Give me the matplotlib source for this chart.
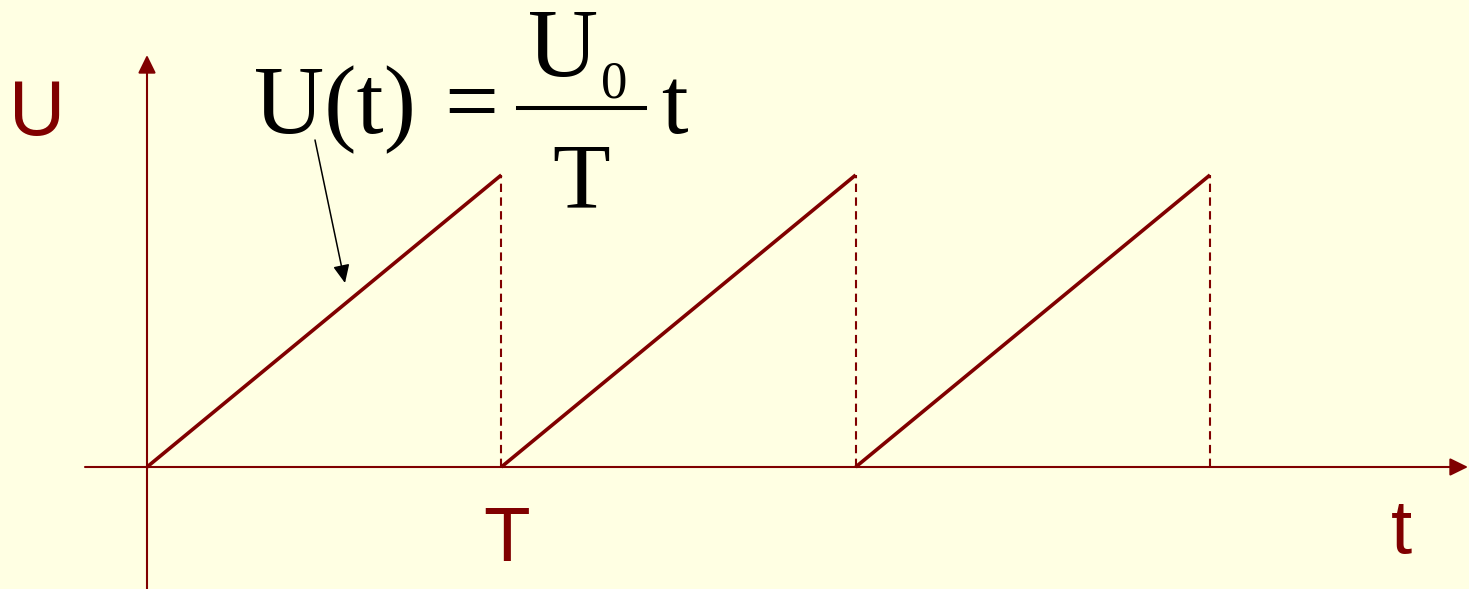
import numpy as np
import matplotlib
matplotlib.use('Agg')
import matplotlib.pyplot as plt
from matplotlib.lines import Line2D

# Datos de la señal diente de sierra (T = 1, U0 = 1, unidades normalizadas)
t_inicio = [0.0, 1.0, 2.0]
t_fin = [1.0, 2.0, 3.0]
U0 = 1.0

# Colores
fondo = '#FFFFE3'
rojo = '#800000'

W, H = 1469, 589
fig = plt.figure(figsize=(W / 100, H / 100), dpi=100, facecolor=fondo)
ax = fig.add_axes([0, 0, 1, 1])
ax.set_facecolor(fondo)

# escala: 0 -> px 147, 3 -> px 1210 ; U: 0 -> px 467, 1 -> px 175
sx = (1210 - 147) / 3
sy = 467 - 175
ax.set_xlim(-147 / sx, (W - 147) / sx)
ax.set_ylim(-(H - 467) / sy, 467 / sy)
ax.axis('off')


def px(x, y):
    # pixel de la imagen -> fracción de figura
    return x / W, 1 - y / H


# ejes con flecha
flecha = dict(arrowstyle='-|>,head_length=11,head_width=5.4', mutation_scale=1,
              color=rojo, lw=1.5, shrinkA=0, shrinkB=0)
ax.annotate('', xy=((W - 1 - 147) / sx, 0), xytext=((85 - 147) / sx, 0), arrowprops=flecha)
ax.annotate('', xy=(0, (467 - 55) / sy), xytext=(0, -(H - 467) / sy), arrowprops=flecha)

# rampas y líneas discontinuas
for a, b in zip(t_inicio, t_fin):
    ax.plot([a, b], [0, U0], color=rojo, lw=2.6, solid_capstyle='butt', zorder=3)
    ax.plot([b, b], [0, U0], color=rojo, lw=1.5, dashes=(4, 2.6), zorder=2)

# etiquetas de los ejes
sans = 'Liberation Sans'
ax.text(-0.31, (467 - 114) / sy, 'U', color=rojo, fontsize=56, family=sans,
        ha='center', va='center')
ax.text((507 - 147) / sx, -(561 - 467) / sy, 'T', color=rojo, fontsize=55, family=sans,
        ha='center', va='baseline')
ax.text((1401 - 147) / sx, -(553 - 467) / sy, 't', color=rojo, fontsize=55, family=sans,
        ha='center', va='baseline')

# fórmula U(t) = U0/T t
serif = 'Liberation Serif'
fig.text(*px(254, 133), 'U(t)', fontsize=70, family=serif, ha='left', va='baseline')
fig.text(*px(471, 133), '=', fontsize=69, family=serif, ha='center', va='baseline')
fig.add_artist(Line2D([518 / W, 645 / W], [1 - 108 / H, 1 - 108 / H], color='black', lw=2.9))
fig.text(*px(528, 76), 'U', fontsize=70, family=serif, ha='left', va='baseline')
fig.text(*px(601, 97), '0', fontsize=38, family=serif, ha='left', va='baseline')
fig.text(*px(581, 207), 'T', fontsize=68, family=serif, ha='center', va='baseline')
fig.text(*px(661, 133), 't', fontsize=69, family=serif, ha='left', va='baseline')

# flecha que señala la rampa
ax.annotate('', xy=((345 - 147) / sx, (467 - 283) / sy),
            xytext=((315 - 147) / sx, (467 - 140) / sy),
            arrowprops=dict(arrowstyle='-|>,head_length=11,head_width=5', mutation_scale=1,
                            color='black', lw=1.1, shrinkA=0, shrinkB=0))

fig.savefig('out.png', dpi=100, facecolor=fondo)
